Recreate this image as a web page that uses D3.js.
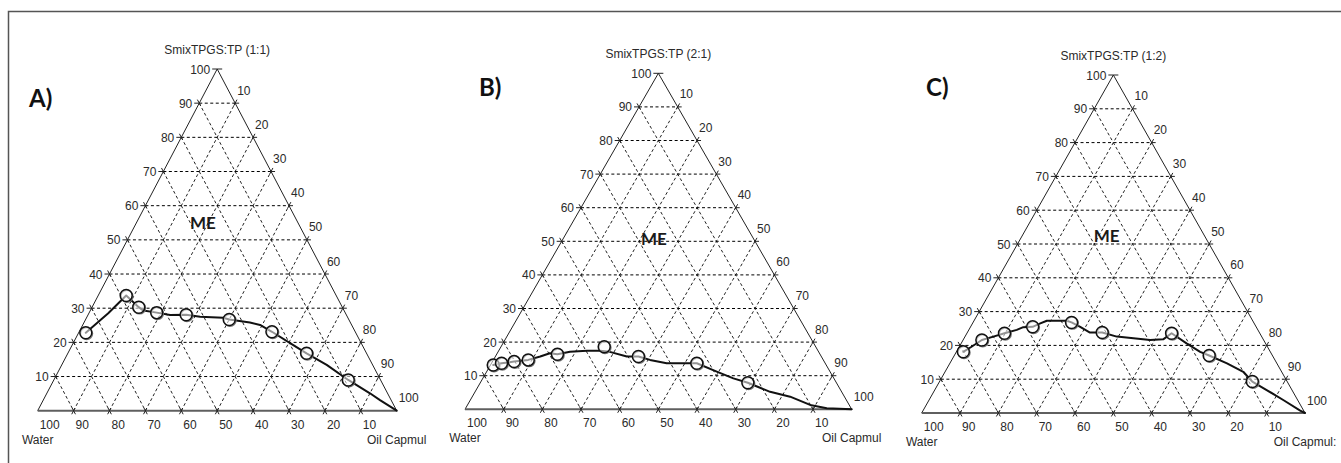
<!DOCTYPE html>
<html><head><meta charset="utf-8">
<script src="https://cdn.jsdelivr.net/npm/d3@7"></script>
<style>
html,body{margin:0;padding:0;background:#fff;}
svg{display:block;}
</style></head><body>
<svg id="chart" width="1341" height="463"></svg>
<script>
// Axis tick values, in percent
const tickValues = [10, 20, 30, 40, 50, 60, 70, 80, 90, 100];
const gridValues = [10, 20, 30, 40, 50, 60, 70, 80, 90];

const panelTitles = ["SmixTPGS:TP (1:1)", "SmixTPGS:TP (2:1)", "SmixTPGS:TP (1:2)"];
const panelLetters = ["A)", "B)", "C)"];
const waterLabels = ["Water", "Water", "Water"];
const oilLabels = ["Oil Capmul", "Oil Capmul", "Oil Capmul:"];
const regionLabels = ["ME", "ME", "ME"];

// Titration points, [Smix %, Oil %] (water = remainder)
const pointsA = [[22.8, 2.0], [33.7, 7.8], [30.3, 13.0], [28.7, 18.8], [28.1, 27.3],
                 [26.7, 40.0], [23.1, 53.7], [16.8, 66.5], [9.0, 82.0]];
const pointsB = [[13.2, 0.7], [13.7, 2.6], [14.2, 5.6], [14.7, 9.0], [16.4, 15.7],
                 [18.6, 26.7], [15.7, 37.0], [13.7, 53.1], [7.9, 69.2]];
const pointsC = [[18.1, 1.8], [21.6, 4.9], [23.6, 9.8], [25.5, 16.2], [26.8, 25.7],
                 [23.8, 35.2], [23.6, 53.4], [17.0, 66.5], [9.3, 81.6]];

// Microemulsion phase boundary traced through the points, [Smix %, Oil %]
const boundaryA = [[22.8, 2.0], [28.5, 5.4], [33.7, 7.8], [30.3, 13.0], [29.3, 14.8],
                   [28.7, 18.8], [28.0, 22.9], [28.1, 27.3], [27.5, 31.5], [27.2, 38.1],
                   [26.7, 40.0], [25.8, 46.2], [25.1, 49.4], [23.1, 53.7], [19.2, 61.6],
                   [16.8, 66.5], [13.4, 73.8], [9.0, 82.0], [5.1, 90.0], [3.1, 93.8], [0, 100]];
const boundaryB = [[13.2, 0.7], [13.7, 2.6], [14.2, 5.6], [14.7, 9.0], [15.7, 11.6],
                   [16.7, 13.6], [16.4, 15.7], [17.1, 18.6], [17.4, 22.8], [17.4, 26.2],
                   [17.1, 28.9], [15.7, 34.0], [15.7, 37.0], [14.7, 40.5], [13.7, 45.3],
                   [13.7, 49.6], [13.7, 53.1], [11.2, 59.5], [9.2, 64.8], [7.9, 69.2],
                   [5.2, 76.3], [3.75, 82.2], [1.3, 88.6], [0.3, 93.4], [0, 100]];
const boundaryC = [[18.1, 1.8], [19.6, 3.2], [21.6, 4.9], [22.6, 7.4], [23.6, 9.8],
                   [24.6, 12.5], [25.4, 13.8], [25.5, 16.2], [26.5, 17.7], [27.3, 19.0],
                   [27.3, 24.2], [26.8, 25.7], [25.5, 28.6], [23.8, 32.0], [23.8, 35.2],
                   [22.6, 39.6], [22.1, 44.2], [21.6, 48.8], [21.8, 52.1], [23.6, 53.4],
                   [20.6, 58.8], [18.1, 63.6], [17.0, 66.5], [14.7, 72.3], [12.2, 77.8],
                   [9.3, 81.6], [6.8, 86.6], [3.85, 92.4], [0.7, 98.4], [0, 100]];

const panelPoints = [pointsA, pointsB, pointsC];
const panelBoundaries = [boundaryA, boundaryB, boundaryC];

// Placement of each triangle on the page
const frames = [
  {xL: 37.7, xR: 396.7, yB: 410.7, yT: 69,   letter: [29, 107],  me: [55, 18.5]},
  {xL: 465,  xR: 851.7, yB: 409.3, yT: 73.3, letter: [479, 96],  me: [50.7, 23.5]},
  {xL: 921.7, xR: 1305, yB: 413,   yT: 75,   letter: [926, 96],  me: [52.5, 22]}
];

const svg = d3.select("#chart");
const FONT = "'Liberation Sans', Arial, sans-serif";

// Page frame (top and left rules)
svg.append("path")
  .attr("d", "M8.5,463 V11.5 H1341")
  .attr("fill", "none").attr("stroke", "#555").attr("stroke-width", 1.5);

frames.forEach((f, i) => {
  const sx = d3.scaleLinear().domain([0, 100]).range([f.xL, f.xR]);
  const sy = d3.scaleLinear().domain([0, 100]).range([f.yB, f.yT]);
  // (smix, oil) -> pixel
  const P = (s, o) => [sx(o + s / 2), sy(s)];
  const g = svg.append("g");

  // Dashed grid
  const grid = g.append("g").attr("fill", "none").attr("stroke", "#000")
    .attr("stroke-width", 1).attr("stroke-dasharray", "3,2.5");
  const seg = (a, b) => grid.append("line")
    .attr("x1", a[0]).attr("y1", a[1]).attr("x2", b[0]).attr("y2", b[1]);
  gridValues.forEach(v => {
    seg(P(v, 0), P(v, 100 - v));        // constant Smix
    seg(P(0, v), P(100 - v, v)).attr("stroke", "#222");  // constant oil
    seg(P(100 - v, 0), P(0, 100 - v)).attr("stroke", "#222"); // constant water
  });

  // Triangle outline
  const A = P(100, 0), Wc = P(0, 0), Oc = P(0, 100);
  g.append("path")
    .attr("d", `M${Wc[0]},${Wc[1]} L${A[0]},${A[1]} L${Oc[0]},${Oc[1]}`)
    .attr("fill", "none").attr("stroke", "#222").attr("stroke-width", 1);
  g.append("line")
    .attr("x1", Wc[0]).attr("y1", Wc[1]).attr("x2", Oc[0]).attr("y2", Oc[1])
    .attr("stroke", "#5f5f5f").attr("stroke-width", 2);

  // Tick crosses along the edges
  const unit = (a, b) => { const dx = b[0] - a[0], dy = b[1] - a[1], l = Math.hypot(dx, dy); return [dx / l, dy / l]; };
  const dirWater = unit(P(90, 0), P(0, 90));  // along constant-water lines
  const dirOil = unit(P(0, 10), P(90, 10));   // along constant-oil lines
  const ticks = g.append("g").attr("stroke", "#222").attr("stroke-width", 1);
  const cross = (p, d, a, b) => ticks.append("line")
    .attr("x1", p[0] - d[0] * a).attr("y1", p[1] - d[1] * a)
    .attr("x2", p[0] + d[0] * b).attr("y2", p[1] + d[1] * b);
  tickValues.forEach(t => {
    const pl = P(t, 0), pr = P(100 - t, t), pb = P(0, 100 - t);
    cross(pl, [1, 0], 5, t === 100 ? 5 : 0);
    if (t < 100) cross(pl, dirWater, 4, 3);
    if (t < 100) { cross(pr, [1, 0], 0, 4); cross(pr, dirOil, 3, 4); }
    if (t < 100) { cross(pb, dirOil, 4, 3); cross(pb, dirWater, 3, 4); }
  });

  // Tick labels
  const lab = g.append("g").attr("font-family", FONT).attr("font-size", 12)
    .attr("fill", "#2a2a2a");
  tickValues.forEach(t => {
    const pl = P(t, 0), pr = P(100 - t, t), pb = P(0, 100 - t);
    lab.append("text").attr("x", pl[0] - 7).attr("y", pl[1] + 4.5)
      .attr("text-anchor", "end").text(t);
    lab.append("text").attr("x", pr[0] + 2).attr("y", pr[1] - 8.5).text(t);
    lab.append("text").attr("x", pb[0] + 2).attr("y", pb[1] + 18).text(t);
  });

  // Corner and apex names
  lab.append("text").attr("x", A[0]).attr("y", A[1] - 15)
    .attr("text-anchor", "middle").text(panelTitles[i]);
  lab.append("text").attr("x", Wc[0]).attr("y", Wc[1] + 33)
    .attr("text-anchor", "middle").text(waterLabels[i]);
  lab.append("text").attr("x", Oc[0]).attr("y", Oc[1] + 33)
    .attr("text-anchor", "middle").text(oilLabels[i]);

  // Region label
  const me = P(f.me[0], f.me[1]);
  g.append("text").attr("x", me[0]).attr("y", me[1] + 6)
    .attr("text-anchor", "middle").attr("font-family", "Lato, 'Open Sans', sans-serif")
    .attr("font-weight", 700).attr("font-size", 17).attr("fill", "#1a1a1a")
    .text(regionLabels[i]);

  // Panel letter
  g.append("text").attr("x", f.letter[0]).attr("y", f.letter[1])
    .attr("font-family", "Lato, 'Open Sans', sans-serif").attr("font-weight", 700)
    .attr("font-size", 24).attr("fill", "#111").text(panelLetters[i]);

  // Phase boundary
  const line = d3.line().x(d => P(d[0], d[1])[0]).y(d => P(d[0], d[1])[1]);
  g.append("path").datum(panelBoundaries[i]).attr("d", line)
    .attr("fill", "none").attr("stroke", "#111").attr("stroke-width", 2)
    .attr("stroke-linejoin", "round").attr("stroke-linecap", "round");

  // Titration points
  const pts = g.append("g");
  pts.selectAll("circle.sh").data(panelPoints[i]).join("circle").attr("class", "sh")
    .attr("cx", d => P(d[0], d[1])[0] + 0.8).attr("cy", d => P(d[0], d[1])[1] + 0.8)
    .attr("r", 6).attr("fill", "none").attr("stroke", "#777").attr("stroke-width", 1.3);
  pts.selectAll("circle.pt").data(panelPoints[i]).join("circle").attr("class", "pt")
    .attr("cx", d => P(d[0], d[1])[0]).attr("cy", d => P(d[0], d[1])[1])
    .attr("r", 6).attr("fill", "#fff").attr("fill-opacity", 0.55)
    .attr("stroke", "#111").attr("stroke-width", 1.5);
});
</script>
</body></html>
